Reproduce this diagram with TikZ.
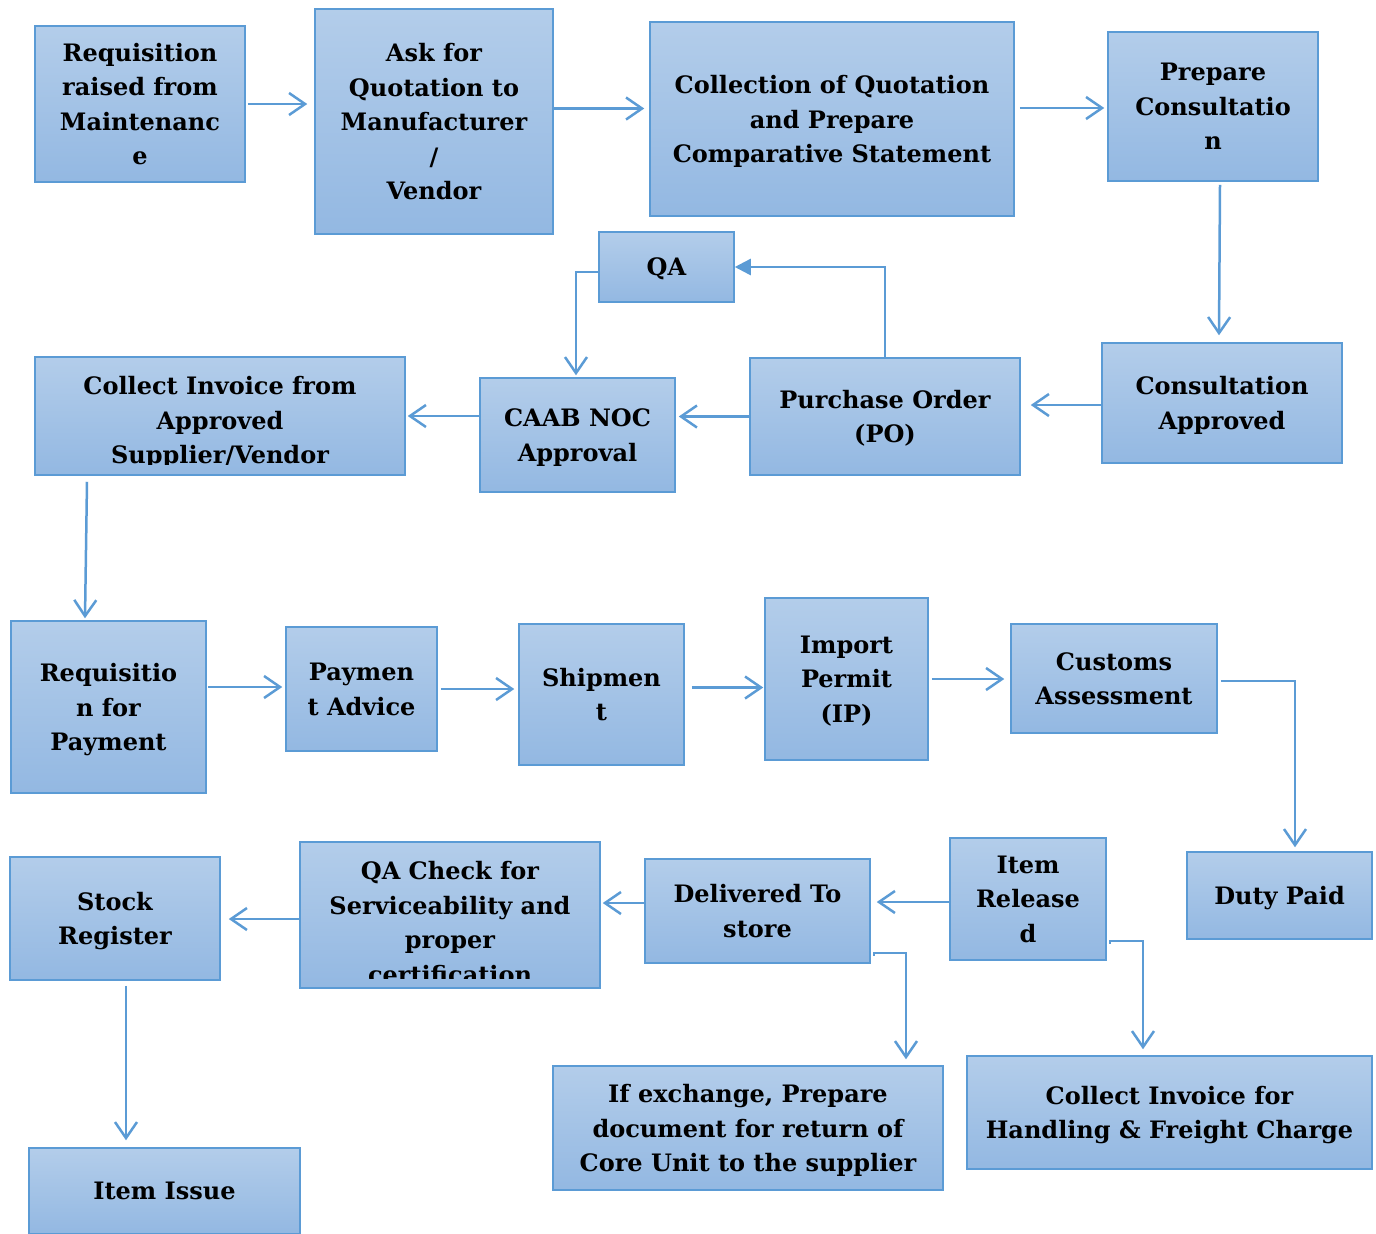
\documentclass[tikz,border=0pt]{standalone}
\usepackage{fontspec}
\setmainfont{DejaVu Serif}
\usepackage{xcolor}
\usepackage{tikz}
\usetikzlibrary{arrows.meta}
\definecolor{boxline}{HTML}{5B9BD5}
\definecolor{boxtop}{HTML}{B3CDEA}
\definecolor{boxbottom}{HTML}{93B8E2}

\begin{document}
\begin{tikzpicture}[%
		x=0.5pt, y=-0.5pt,
		box/.style={draw=boxline, line width=0.75pt, top color=boxtop, bottom color=boxbottom,
			inner sep=0pt, align=center, text=black,
			font=\fontsize{12pt}{17.25pt}\selectfont\bfseries, text depth=-4pt},
		boxsize/.style 2 args={minimum width=#1*0.5pt, minimum height=#2*0.5pt},
		boxtext/.style={inner sep=0pt, align=center, text=black,
			font=\fontsize{12pt}{17.25pt}\selectfont\bfseries},
		flow/.style={draw=boxline, line width=1.25pt, -{Straight Barb[length=8pt, width=11pt]}},
		flowfill/.style={draw=boxline, line width=1.25pt, -{Triangle[length=8pt, width=8pt]}}
	]
	\useasboundingbox (0,0) rectangle (1376,1233);

	\node[box, boxsize={210}{156}] (req) at (140,104) {Requisition\\raised from\\Maintenanc\\e};
	\node[box, boxsize={238}{225}] (ask) at (434,121.5) {Ask for\\Quotation to\\Manufacturer\\/\\Vendor};
	\node[box, boxsize={364}{194}] (collect) at (832,119) {Collection of Quotation\\and Prepare\\Comparative Statement};
	\node[box, boxsize={210}{149}] (prep) at (1213,106.5) {Prepare\\Consultatio\\n};
	\node[box, boxsize={135}{70}] (qa) at (666.5,267) {QA};
	\node[box, boxsize={370}{118}] (invoice) at (220,416) {};
	\begin{scope}
		\clip (invoice.north west) rectangle ([yshift=5.5pt]invoice.south east);
		\node[boxtext] (invoicetext) at (220,422.5) {Collect Invoice from\\Approved\\Supplier/Vendor};
	\end{scope}
	\node[box, boxsize={195}{114}] (caab) at (577.5,435) {CAAB NOC\\Approval};
	\node[box, boxsize={270}{117}] (po) at (885,416.5) {Purchase Order\\(PO)};
	\node[box, boxsize={240}{120}] (consapp) at (1222,403) {Consultation\\Approved};

	\node[box, boxsize={195}{172}] (reqpay) at (108.5,707) {Requisitio\\n for\\Payment};
	\node[box, boxsize={151}{124}] (payadv) at (361.5,689) {Paymen\\t Advice};
	\node[box, boxsize={165}{141}] (ship) at (601.5,694.5) {Shipmen\\t};
	\node[box, boxsize={163}{162}] (ip) at (846.5,679) {Import\\Permit\\(IP)};
	\node[box, boxsize={206}{109}] (customs) at (1114,678.5) {Customs\\Assessment};
	\node[box, boxsize={185}{87}] (duty) at (1279.5,895.5) {Duty Paid};

	\node[box, boxsize={156}{122}] (release) at (1028,899) {Item\\Release\\d};
	\node[box, boxsize={225}{104}] (deliv) at (757.5,911) {Delivered To\\store};
	\node[box, boxsize={300}{146}] (qacheck) at (450,915) {};
	\begin{scope}
		\clip (qacheck.north west) rectangle ([yshift=5pt]qacheck.south east);
		\node[boxtext] (qachecktext) at (450,922.5) {QA Check for\\Serviceability and\\proper\\certification};
	\end{scope}
	\node[box, boxsize={210}{123}] (stock) at (115,918.5) {Stock\\Register};
	\node[box, boxsize={271}{86}] (issue) at (164.5,1191) {Item Issue};
	\node[box, boxsize={390}{124}] (exch) at (748,1128) {If exchange, Prepare\\document for return of\\Core Unit to the supplier};
	\node[box, boxsize={405}{113}] (handling) at (1169.5,1112.5) {Collect Invoice for\\Handling \& Freight Charge};

	\draw[flow] ([xshift=1pt]req.east) -- ([xshift=-3.5pt]req.east -| ask.west);
	\draw[flow] ([yshift=6.5pt]ask.east) -- ([xshift=-2.5pt,yshift=6.5pt]ask.east -| collect.west);
	\draw[flow] ([xshift=2.5pt,yshift=5.5pt]collect.east) -- ([xshift=-1.5pt,yshift=5.5pt]collect.east -| prep.west);
	\draw[flow] ([xshift=3.5pt,yshift=-1.5pt]prep.south) -- ([xshift=-1.5pt,yshift=3.5pt]consapp.north);
	\draw[flow] ([yshift=-1pt]consapp.west) -- ([xshift=5pt,yshift=-1pt]consapp.west -| po.east);
	\draw[flow] (po.west) -- ([xshift=1.5pt]po.west -| caab.east);
	\draw[flowfill] (po.north) |- (qa.east);
	\draw[flow] ([yshift=-2.5pt]qa.west) -| ([xshift=-0.75pt,yshift=1pt]caab.north);
	\draw[flow] ([yshift=9.5pt]caab.west) -- ([xshift=1pt]invoice.east);
	\draw[flow] ([xshift=-66.5pt,yshift=-3pt]invoice.south) -- ([xshift=-11.75pt,yshift=1pt]reqpay.north);

	\draw[flow] ([xshift=0.5pt,yshift=10pt]reqpay.east) -- ([xshift=-1.5pt,yshift=1pt]payadv.west);
	\draw[flow] ([xshift=1.5pt]payadv.east) -- ([xshift=-2pt,yshift=2.75pt]ship.west);
	\draw[flow] ([xshift=3.5pt,yshift=3.5pt]ship.east) -- ([xshift=-0.5pt,yshift=-4.25pt]ip.west);
	\draw[flow] ([xshift=1.5pt]ip.east) -- ([xshift=-3pt]ip.east -| customs.west);
	\draw[flow] ([xshift=1.5pt,yshift=-1.25pt]customs.east) -| ([xshift=7.75pt,yshift=2pt]duty.north);

	\draw[flow] ([yshift=-1.5pt]release.west) -- ([xshift=3pt,yshift=-1.5pt]release.west -| deliv.east);
	\draw[flow] ([yshift=4pt]deliv.west) -- ([xshift=1pt,yshift=4pt]deliv.west -| qacheck.east);
	\draw[flow] ([yshift=-2pt]qacheck.west) -- ([xshift=4pt,yshift=-2pt]qacheck.west -| stock.east);
	\draw[flow] ([xshift=5.5pt,yshift=-2.5pt]stock.south) -- ([xshift=5.5pt,yshift=3.5pt]stock.south |- issue.north);
	\draw[flow] ([xshift=1.5pt,yshift=4pt]deliv.south east) -- ++(0,-3) -| ([xshift=79pt,yshift=3pt]exch.north);
	\draw[flow] ([xshift=1.5pt,yshift=8.5pt]release.south east) -- ++(0,-3) -| ([xshift=-13.25pt,yshift=3pt]handling.north);
\end{tikzpicture}
\end{document}
